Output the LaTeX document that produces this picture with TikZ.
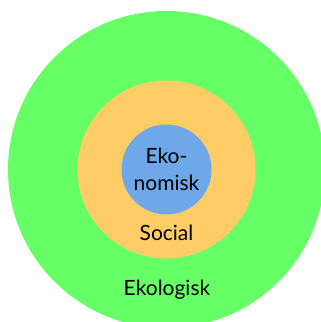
\documentclass[tikz,border=0pt]{standalone}
\usepackage{fontspec}
\setmainfont{Lato}
\definecolor{ecogreen}{RGB}{102,255,102}
\definecolor{socorange}{RGB}{255,204,102}
\definecolor{econblue}{RGB}{111,168,232}
\begin{document}
\begin{tikzpicture}[x=1pt,y=1pt,
  ring/.style={circle,inner sep=0pt,draw=none},
  lbl/.style={font=\fontsize{21}{27}\selectfont,text=black,align=center}]
\useasboundingbox (0,0) rectangle (321,322);
\begin{scope}
\clip (0,0) rectangle (321,322);
\node[ring,fill=ecogreen,minimum size=317pt] (eco) at (166.5,152.5) {};
\node[ring,fill=socorange,minimum size=178pt] (soc) at (166.5,152.5) {};
\node[ring,fill=econblue,minimum size=90pt] (econ) at (166.5,152.5) {};
\end{scope}
\node[lbl] (econlbl) at (166.5,152.5) {Eko-\\nomisk};
\node[lbl] (soclbl) at (166.5,89) {Social};
\node[lbl] (ecolbl) at (167,32) {Ekologisk};
\end{tikzpicture}
\end{document}
